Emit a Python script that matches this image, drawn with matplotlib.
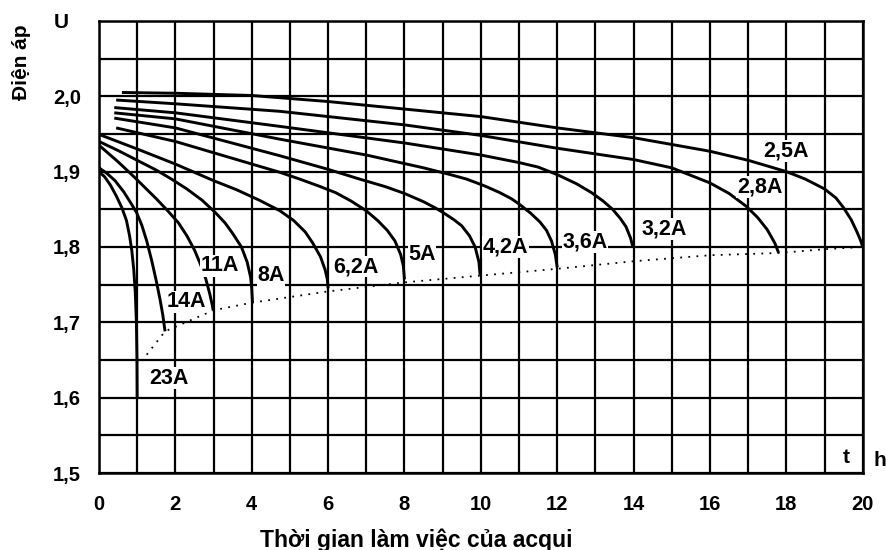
import matplotlib
matplotlib.use("Agg")
import matplotlib.pyplot as plt
from matplotlib.ticker import MultipleLocator

plt.rcParams['font.family'] = ['Liberation Sans', 'DejaVu Sans']
plt.rcParams['font.weight'] = 'bold'

# discharge curves, time (h) vs cell voltage (V)
t_25 = [0.6, 2, 4, 6, 8, 10, 12, 14, 16, 17, 18, 18.5, 19, 19.3, 19.5, 19.7, 19.85, 19.95, 20.0]
u_25 = [2.005, 2.004, 2.001, 1.993, 1.983, 1.973, 1.958, 1.945, 1.927, 1.915, 1.900, 1.890,
        1.877, 1.865, 1.852, 1.836, 1.820, 1.808, 1.800]

t_28 = [0.45, 2, 4.74, 8, 10, 12, 14, 15, 16, 16.5, 16.95, 17.25, 17.5, 17.7, 17.8]
u_28 = [1.995, 1.990, 1.980, 1.962, 1.948, 1.931, 1.916, 1.905, 1.885, 1.871, 1.854, 1.839,
        1.823, 1.805, 1.792]

t_32 = [0.4, 2, 4.74, 8, 10, 11, 11.5, 12, 12.5, 12.9, 13.2, 13.45, 13.65, 13.8, 13.92, 13.98]
u_32 = [1.985, 1.978, 1.960, 1.938, 1.922, 1.912, 1.906, 1.896, 1.884, 1.872, 1.861, 1.850,
        1.838, 1.827, 1.812, 1.800]

t_36 = [0.4, 2, 4.74, 7, 8.5, 9.2, 9.63, 10.1, 10.5, 10.8, 11.0, 11.3, 11.55, 11.72, 11.85,
        11.95, 12.0]
u_36 = [1.978, 1.970, 1.943, 1.922, 1.905, 1.896, 1.890, 1.881, 1.872, 1.864, 1.857, 1.845,
        1.833, 1.822, 1.808, 1.790, 1.773]

t_42 = [0.4, 2, 4.74, 6.0, 6.83, 7.5, 8, 8.5, 8.8, 9.0, 9.3, 9.5, 9.7, 9.85, 9.95, 9.98]
u_42 = [1.971, 1.958, 1.921, 1.903, 1.890, 1.880, 1.871, 1.860, 1.852, 1.846, 1.836, 1.828,
        1.815, 1.800, 1.780, 1.763]

t_5 = [0.45, 2, 4.74, 5.26, 5.8, 6.2, 6.6, 7.0, 7.3, 7.55, 7.75, 7.9, 7.97, 8.0]
u_5 = [1.958, 1.940, 1.899, 1.890, 1.880, 1.872, 1.861, 1.848, 1.835, 1.822, 1.808, 1.790,
       1.775, 1.757]

t_62 = [0.02, 1, 2, 3, 3.6, 4.2, 4.74, 5.1, 5.4, 5.6, 5.8, 5.92, 5.98, 6.0]
u_62 = [1.949, 1.930, 1.910, 1.888, 1.876, 1.862, 1.848, 1.835, 1.820, 1.805, 1.787, 1.770,
        1.757, 1.745]

t_8 = [0.0, 0.5, 1, 1.5, 1.9, 2.3, 2.7, 3.04, 3.3, 3.5, 3.73, 3.88, 3.97, 4.0, 4.02]
u_8 = [1.940, 1.928, 1.915, 1.902, 1.890, 1.877, 1.862, 1.846, 1.832, 1.818, 1.800, 1.780,
       1.760, 1.745, 1.726]

t_11 = [0.0, 0.5, 0.94, 1.5, 1.8, 2.08, 2.3, 2.5, 2.65, 2.8, 2.9, 2.97, 2.99]
u_11 = [1.935, 1.913, 1.892, 1.864, 1.848, 1.832, 1.815, 1.796, 1.778, 1.757, 1.738, 1.722,
        1.716]

t_14 = [0.0, 0.2, 0.42, 0.65, 0.85, 0.99, 1.12, 1.25, 1.38, 1.5, 1.6, 1.67, 1.73]
u_14 = [1.905, 1.898, 1.888, 1.873, 1.857, 1.845, 1.829, 1.808, 1.782, 1.755, 1.730, 1.710,
        1.688]

t_23 = [0.0, 0.15, 0.3, 0.45, 0.6, 0.72, 0.8, 0.86, 0.91, 0.95, 0.98, 0.995, 1.0]
u_23 = [1.900, 1.893, 1.882, 1.868, 1.852, 1.835, 1.815, 1.795, 1.770, 1.740, 1.700, 1.650,
        1.600]

# end-of-discharge voltage line
t_end = [1.25, 1.73, 3.0, 4.0, 6.0, 8.0, 10.0, 12.0, 14.0, 16.0, 17.8, 19.0, 20.0]
u_end = [1.657, 1.688, 1.716, 1.726, 1.741, 1.753, 1.762, 1.771, 1.781, 1.789, 1.792, 1.797, 1.800]

labels = ['2,5A', '2,8A', '3,2A', '3,6A', '4,2A', '5A', '6,2A', '8A', '11A', '14A', '23A']
label_t = [17.98, 17.3, 14.8, 12.72, 10.65, 8.46, 6.73, 4.5, 3.17, 2.28, 1.83]
label_u = [1.927, 1.879, 1.824, 1.807, 1.800, 1.790, 1.774, 1.762, 1.775, 1.727, 1.626]

x_ticks = [0, 2, 4, 6, 8, 10, 12, 14, 16, 18, 20]
y_ticks = [1.5, 1.6, 1.7, 1.8, 1.9, 2.0]
y_tick_labels = ['1,5', '1,6', '1,7', '1,8', '1,9', '2,0']

fig = plt.figure(figsize=(8.87, 5.5), dpi=100)
ax = fig.add_axes([0.1116, 0.14, 0.861, 0.822])

curves = [(t_25, u_25), (t_28, u_28), (t_32, u_32), (t_36, u_36), (t_42, u_42),
          (t_5, u_5), (t_62, u_62), (t_8, u_8), (t_11, u_11), (t_14, u_14), (t_23, u_23)]
for t, u in curves:
    ax.plot(t, u, color='black', lw=2.1, solid_capstyle='butt', solid_joinstyle='round', zorder=3)

ax.plot(t_end, u_end, color='black', lw=1.3, linestyle=(0, (1, 3.5)), zorder=3)

for lab, tx, uy in zip(labels, label_t, label_u):
    ax.text(tx, uy, lab, fontsize=15.5, fontweight='bold', ha='center', va='center', zorder=4,
            bbox=dict(facecolor='white', edgecolor='none', pad=0.3))

ax.set_xlim(0, 20)
ax.set_ylim(1.5, 2.1)
ax.set_xticks(x_ticks)
ax.set_yticks(y_ticks)
ax.set_yticklabels(y_tick_labels)
ax.xaxis.set_minor_locator(MultipleLocator(1))
ax.yaxis.set_minor_locator(MultipleLocator(0.05))
ax.grid(which='both', color='black', lw=1.6)
ax.set_axisbelow(True)
ax.tick_params(which='both', length=0)
ax.tick_params(axis='x', pad=16, labelsize=14.5)
ax.tick_params(axis='y', pad=13, labelsize=14.5)
for lab in ax.get_xticklabels() + ax.get_yticklabels():
    lab.set_fontweight('bold')
for s in ax.spines.values():
    s.set_linewidth(1.8)

ax.text(19.58, 1.52, 't', fontsize=15, fontweight='bold', ha='center', va='center', zorder=4)
fig.text(880 / 887, 1 - 460 / 550, 'h', fontsize=15, fontweight='bold', ha='center', va='center')
fig.text(61 / 887, 1 - 22 / 550, 'U', fontsize=15, fontweight='bold', ha='center', va='center')
fig.text(22 / 887, 1 - 62 / 550, 'Điện áp', fontsize=15, fontweight='bold', rotation=90,
         ha='center', va='center')
fig.text(416 / 887, 1 - 540 / 550, 'Thời gian làm việc của acqui', fontsize=16.5,
         fontweight='bold', ha='center', va='center')

fig.savefig('out.png', dpi=100)
